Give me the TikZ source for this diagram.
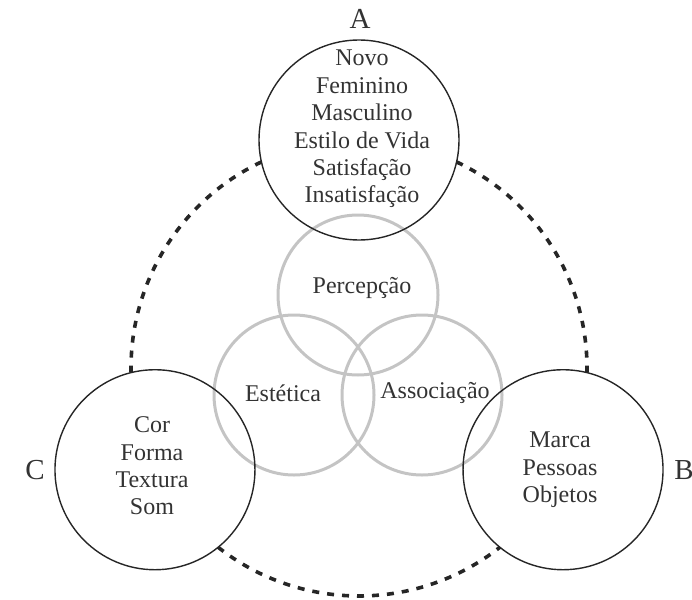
\documentclass[tikz,border=0pt]{standalone}
\usepackage{fontspec}
\setmainfont{Liberation Serif}
\begin{document}
\begin{tikzpicture}[x=1pt,y=1pt,
  ink/.style={text=black!80},
  body/.style={ink,font=\fontsize{24}{27.4}\selectfont,align=center,inner sep=0pt},
  tag/.style={ink,font=\fontsize{29}{30}\selectfont,inner sep=0pt},
  outer/.style={circle,draw=black!85,line width=1.4pt,minimum size=200pt,inner sep=0pt},
  inner/.style={circle,draw=black!23,line width=3pt,minimum size=160pt,inner sep=0pt},
  link/.style={draw=black!85,line width=3.6pt,dash pattern=on 7pt off 8pt}]
\useasboundingbox (0,0) rectangle (692,-599);

% centre of the ring through the three outer circles
\coordinate (O) at (359,-368);

% overlapping grey circles
\node[inner] (per) at (358,-295) {};
\node[inner] (est) at (294,-395) {};
\node[inner] (ass) at (422,-395) {};

% outer circles sitting on the ring
\node[outer] (ca) at ([shift={(90:228)}]O) {};
\node[outer] (cb) at ([shift={(-26.5:228)}]O) {};
\node[outer] (cc) at ([shift={(206.5:228)}]O) {};

% dashed ring segments between the outer circles
\draw[link] ([shift={(115.3:228)}]O) arc[start angle=115.3,end angle=181.2,radius=228];
\draw[link] ([shift={(64.7:228)}]O) arc[start angle=64.7,end angle=-1.2,radius=228];
\draw[link] ([shift={(231.8:228)}]O) arc[start angle=231.8,end angle=308.2,radius=228];

% circle letters
\node[tag] (la) at (360,-19) {A};
\node[tag] (lb) at (684,-470) {B};
\node[tag] (lc) at (35,-470) {C};

% contents
\node[body] (ta) at (362,-129) {Novo\\Feminino\\Masculino\\Estilo de Vida\\Satisfação\\Insatisfação};
\node[body] (tb) at (560,-470) {Marca\\Pessoas\\Objetos};
\node[body] (tc) at (152,-466) {Cor\\Forma\\Textura\\Som};
\node[body] (tp) at (362,-288) {Percepção};
\node[body] (te) at (283,-393) {Estética};
\node[body] (ts) at (435,-393) {Associação};
\end{tikzpicture}
\end{document}
